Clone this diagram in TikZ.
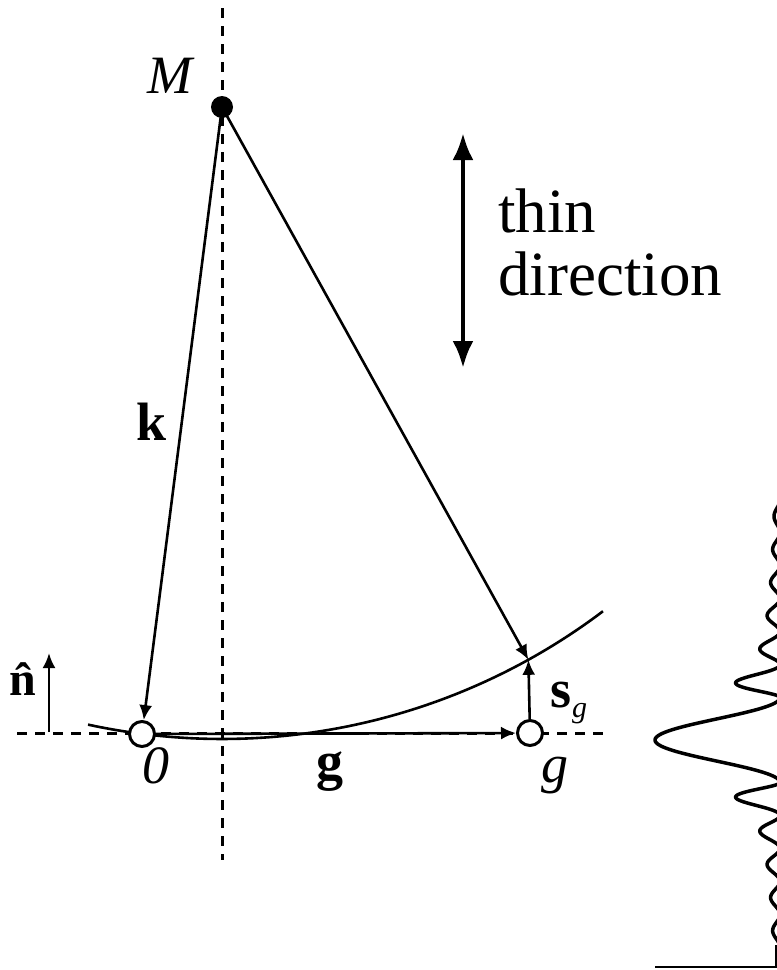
\documentclass[tikz,border=0pt]{standalone}
\usepackage{fontspec}
\setmainfont{Liberation Serif}
\usetikzlibrary{arrows.meta}
\begin{document}
\begin{tikzpicture}[x=1pt,y=1pt,
  thinln/.style={line width=2.6pt},
  dashln/.style={line width=3pt, dash pattern=on 10pt off 8pt},
  tipped/.style={-{Latex[length=15pt,width=13pt]}},
  ring/.style={circle, draw, fill=white, line width=3pt, minimum size=25pt, inner sep=0pt},
  lbl/.style={font=\fontsize{54}{54}\selectfont, inner sep=0pt, anchor=base},
  declare function={
    sidef(\v)=43*exp(-1.1*ln((\v-42.5)/33+0.5))*(sin((\v-42.5)*5.454545))^2;
    cenf(\v)=125*(cos(\v*2.117647))^2;}
]
\useasboundingbox (0,0) rectangle (777,-970);

% dashed axes
\coordinate (vt) at (222,-8);
\coordinate (vb) at (222,-860);
\draw[dashln] (vt) -- (vb);
\coordinate (hl) at (17,-733);
\coordinate (hr) at (603,-733);
\draw[dashln] (hl) -- (hr);

% Ewald sphere arc (centre M, radius 632)
\coordinate (Mc) at (222,-107);
\draw[thinln] (Mc) ++(-102.24:632) arc[start angle=-102.24, end angle=-52.93, radius=632];
\coordinate (P) at (528.4,-659.8);

% points
\node[ring] (O) at (142,-734) {};
\node[ring] (G) at (530,-733) {};
\node[circle, fill=black, minimum size=22pt, inner sep=0pt] (M) at (Mc) {};

% vectors
\draw[thinln, tipped] (M.center) -- (O);
\draw[thinln, tipped] (M.center) -- (P);
\draw[thinln, tipped] (O) -- (G);
\draw[thinln, tipped] (G) -- (P);

% normal
\coordinate (na) at (49,-732);
\coordinate (nb) at (49,-653);
\draw[thinln, tipped] (na) -- (nb);
\node[lbl, font=\fontsize{48}{48}\selectfont] (nlab) at (27,-695) {\textbf{\^n}};

% labels
\node[lbl] (Mlab) at (171,-93) {\textit{M}};
\node[lbl] (klab) at (152,-440) {\textbf{k}};
\node[lbl] (Olab) at (156,-783) {\textit{0}};
\node[lbl] (glab) at (330,-779) {\textbf{g}};
\node[lbl] (gpt) at (555,-782) {\textit{g}};
\node[lbl, anchor=base west] (slab) at (550,-707) {\textbf{s}};
\node[lbl, anchor=base west, font=\fontsize{30}{30}\selectfont] (sub) at (572,-717) {\textit{g}};

% thin direction
\coordinate (ta) at (463,-133);
\coordinate (tb) at (463,-368);
\draw[line width=4.5pt, {Latex[length=27pt,width=21pt]}-{Latex[length=27pt,width=21pt]}] (ta) -- (tb);
\node[anchor=base west, inner sep=0pt, font=\fontsize{63}{63}\selectfont] (thin) at (498,-232) {thin};
\node[anchor=base west, inner sep=0pt, font=\fontsize{63}{63}\selectfont] (dir) at (498,-295) {direction};

% rocking curve
\draw[line width=3.5pt, line join=round]
  plot[domain=240:42.5, samples=300, variable=\v] ({780 - sidef(\v)}, {\v-740})
  -- plot[domain=-42.5:42.5, samples=120, variable=\v] ({780 - cenf(\v)}, {-740-\v})
  -- plot[domain=42.5:207.5, samples=250, variable=\v] ({780 - sidef(\v)}, {-740-\v});
\coordinate (ax0) at (655,-967);
\coordinate (ax1) at (776,-967);
\coordinate (ax2) at (776,-945);
\draw[line width=2.5pt] (ax0) -- (ax1) -- (ax2);
\end{tikzpicture}
\end{document}
